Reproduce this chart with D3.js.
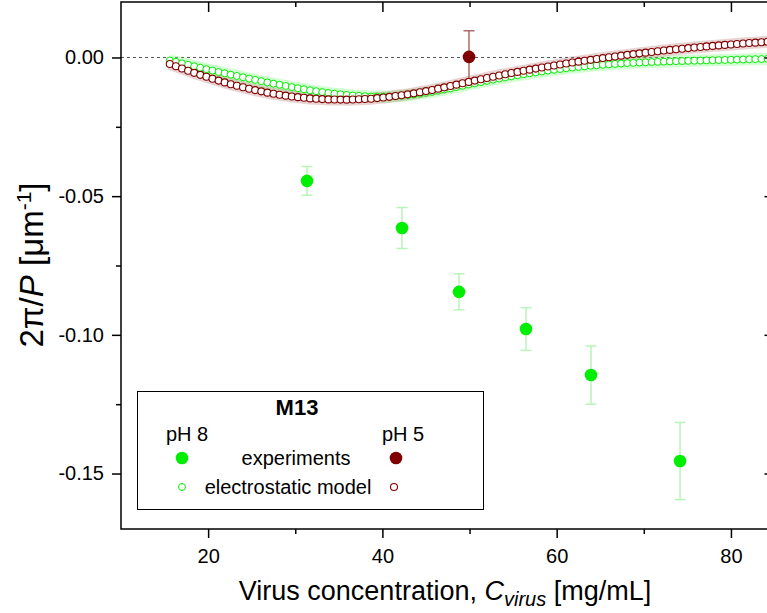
<!DOCTYPE html>
<html>
<head>
<meta charset="utf-8">
<script src="https://cdn.jsdelivr.net/npm/d3@7"></script>
<style>
  body { margin: 0; background: #fff; }
  text { font-family: "Liberation Sans", Arial, sans-serif; }
</style>
</head>
<body>
<div id="chart"></div>
<script>
// experiments, pH 8 (green)
let expPh8X = [31.35, 42.25, 48.79, 56.48, 63.94, 74.16];
let expPh8Y = [-0.0445, -0.0615, -0.0845, -0.0979, -0.1145, -0.1455];
let expPh8Err = [0.0052, 0.0074, 0.0065, 0.0077, 0.0105, 0.0139];

// experiments, pH 5 (dark red)
let expPh5X = [49.94];
let expPh5Y = [0.0002];
let expPh5Err = [0.0094];

// electrostatic model, shared concentrations
let modelX = [15.6, 16.3, 17.0, 17.7, 18.4, 19.1, 19.8, 20.5, 21.2, 21.9,
  22.6, 23.3, 24.0, 24.7, 25.4, 26.1, 26.8, 27.5, 28.2, 28.9,
  29.6, 30.3, 31.0, 31.7, 32.4, 33.1, 33.8, 34.5, 35.2, 35.9,
  36.6, 37.3, 38.0, 38.7, 39.4, 40.1, 40.8, 41.5, 42.2, 42.9,
  43.6, 44.3, 45.0, 45.7, 46.4, 47.1, 47.8, 48.5, 49.2, 49.9,
  50.6, 51.3, 52.0, 52.7, 53.4, 54.1, 54.8, 55.5, 56.2, 56.9,
  57.6, 58.3, 59.0, 59.7, 60.4, 61.1, 61.8, 62.5, 63.2, 63.9,
  64.6, 65.3, 66.0, 66.7, 67.4, 68.1, 68.8, 69.5, 70.2, 70.9,
  71.6, 72.3, 73.0, 73.7, 74.4, 75.1, 75.8, 76.5, 77.2, 77.9,
  78.6, 79.3, 80.0, 80.7, 81.4, 82.1, 82.8, 83.5, 84.2, 84.9];

let modelPh8 = [-0.00108, -0.00160, -0.00213, -0.00265, -0.00318, -0.00370, -0.00422, -0.00472, -0.00522, -0.00571,
  -0.00620, -0.00667, -0.00714, -0.00762, -0.00808, -0.00854, -0.00900, -0.00944, -0.00986, -0.01027,
  -0.01068, -0.01107, -0.01146, -0.01184, -0.01216, -0.01248, -0.01279, -0.01305, -0.01328, -0.01351,
  -0.01370, -0.01383, -0.01396, -0.01408, -0.01411, -0.01412, -0.01411, -0.01395, -0.01377, -0.01359,
  -0.01334, -0.01303, -0.01272, -0.01238, -0.01196, -0.01154, -0.01112, -0.01066, -0.01020, -0.00974,
  -0.00930, -0.00886, -0.00841, -0.00799, -0.00758, -0.00718, -0.00678, -0.00642, -0.00605, -0.00569,
  -0.00537, -0.00505, -0.00473, -0.00444, -0.00416, -0.00389, -0.00364, -0.00342, -0.00320, -0.00298,
  -0.00281, -0.00263, -0.00246, -0.00232, -0.00219, -0.00205, -0.00194, -0.00184, -0.00174, -0.00165,
  -0.00157, -0.00150, -0.00142, -0.00135, -0.00129, -0.00122, -0.00116, -0.00111, -0.00105, -0.00100,
  -0.00094, -0.00089, -0.00083, -0.00078, -0.00072, -0.00067, -0.00061, -0.00056, -0.00050, -0.00045];

let modelPh5 = [-0.00233, -0.00315, -0.00395, -0.00478, -0.00555, -0.00626, -0.00697, -0.00767, -0.00833, -0.00899,
  -0.00963, -0.01018, -0.01073, -0.01128, -0.01176, -0.01222, -0.01268, -0.01307, -0.01342, -0.01376,
  -0.01407, -0.01430, -0.01453, -0.01476, -0.01488, -0.01500, -0.01512, -0.01517, -0.01519, -0.01520,
  -0.01515, -0.01506, -0.01497, -0.01486, -0.01464, -0.01442, -0.01420, -0.01390, -0.01360, -0.01329,
  -0.01293, -0.01253, -0.01213, -0.01171, -0.01124, -0.01077, -0.01029, -0.00980, -0.00931, -0.00881,
  -0.00833, -0.00786, -0.00739, -0.00693, -0.00649, -0.00605, -0.00562, -0.00521, -0.00480, -0.00439,
  -0.00401, -0.00362, -0.00324, -0.00288, -0.00253, -0.00218, -0.00183, -0.00150, -0.00118, -0.00085,
  -0.00054, -0.00022, 0.00009, 0.00037, 0.00066, 0.00094, 0.00121, 0.00148, 0.00174, 0.00200,
  0.00224, 0.00249, 0.00273, 0.00295, 0.00317, 0.00338, 0.00359, 0.00379, 0.00399, 0.00418,
  0.00435, 0.00453, 0.00470, 0.00487, 0.00503, 0.00520, 0.00535, 0.00551, 0.00566, 0.00581];

// ticks
let xMajor = [20, 40, 60, 80];
let xMinor = [30, 50, 70];
let yMajor = [0, -0.05, -0.10, -0.15];
let yMinor = [-0.025, -0.075, -0.125];

let green = '#00ee00', darkRed = '#800000';

let margin = { top: 2, left: 121 };
let width = 653.5, height = 527;

let svg = d3.select('#chart').append('svg')
    .attr('width', 767)
    .attr('height', 613);

let g = svg.append('g')
    .attr('transform', 'translate(' + margin.left + ',' + margin.top + ')');

let x = d3.scaleLinear().domain([10, 85]).range([0, width]);
let y = d3.scaleLinear().domain([-0.17, 0.02]).range([height, 0]);

g.append('clipPath').attr('id', 'clip')
    .append('rect').attr('width', width).attr('height', height);

let plot = g.append('g').attr('clip-path', 'url(#clip)');

// zero line
plot.append('line')
    .attr('x1', 0).attr('x2', width)
    .attr('y1', y(0)).attr('y2', y(0))
    .attr('stroke', '#555').attr('stroke-width', 1)
    .attr('stroke-dasharray', '3,3');

let ph8 = modelX.map(function(d, i){ return {x: d, y: modelPh8[i]}; });
let ph5 = modelX.map(function(d, i){ return {x: d, y: modelPh5[i]}; });

let line = d3.line().x(function(d){ return x(d.x); }).y(function(d){ return y(d.y); });

// faint bands behind the model points
plot.append('path').datum(ph8)
    .attr('d', line).attr('fill', 'none')
    .attr('stroke', '#7cff7c').attr('stroke-opacity', 0.35).attr('stroke-width', 12);
plot.append('path').datum(ph5)
    .attr('d', line).attr('fill', 'none')
    .attr('stroke', '#b06060').attr('stroke-opacity', 0.28).attr('stroke-width', 12);

// pH 5 error bar sits under the model points, as in the original
function drawBars(xs, ys, errs, barColor, bottomCap){
    let eg = plot.append('g').attr('stroke', barColor).attr('stroke-width', 1.5);
    xs.forEach(function(d, i){
        let cx = x(d), top = y(ys[i] + errs[i]), bot = y(ys[i] - errs[i]);
        eg.append('line').attr('x1', cx).attr('x2', cx).attr('y1', top).attr('y2', bot);
        eg.append('line').attr('x1', cx - 5.5).attr('x2', cx + 5.5).attr('y1', top).attr('y2', top);
        if (bottomCap) {
            eg.append('line').attr('x1', cx - 5.5).attr('x2', cx + 5.5).attr('y1', bot).attr('y2', bot);
        }
    });
}
drawBars(expPh5X, expPh5Y, expPh5Err, '#b06a6a', false);

// model circles
plot.selectAll('.m8').data(ph8).enter().append('circle')
    .attr('class', 'm8')
    .attr('cx', function(d){ return x(d.x); })
    .attr('cy', function(d){ return y(d.y); })
    .attr('r', 3.5)
    .attr('fill', '#fff').attr('stroke', green).attr('stroke-width', 1);

plot.selectAll('.m5').data(ph5).enter().append('circle')
    .attr('class', 'm5')
    .attr('cx', function(d){ return x(d.x); })
    .attr('cy', function(d){ return y(d.y); })
    .attr('r', 3.5)
    .attr('fill', '#fff').attr('stroke', darkRed).attr('stroke-width', 1.1);

drawBars(expPh8X, expPh8Y, expPh8Err, '#b8f5b8', true);

// experiment dots
function drawDots(xs, ys, color){
    plot.selectAll(null).data(xs).enter().append('circle')
        .attr('cx', function(d){ return x(d); })
        .attr('cy', function(d, i){ return y(ys[i]); })
        .attr('r', 6.3)
        .attr('fill', color);
}
drawDots(expPh8X, expPh8Y, green);
drawDots(expPh5X, expPh5Y, darkRed);

// axes
let fmt = function(d){ return d.toFixed(2); };

function styleAxis(sel){
    sel.select('.domain').remove();
    sel.selectAll('line').attr('stroke', '#000').attr('stroke-width', 1.5);
    sel.selectAll('text').attr('font-size', 20).attr('fill', '#000');
}

g.append('g').attr('transform', 'translate(0,' + height + ')')
    .call(d3.axisBottom(x).tickValues(xMajor).tickSize(9).tickPadding(11).tickFormat(d3.format('d')))
    .call(styleAxis);
g.append('g').attr('transform', 'translate(0,' + height + ')')
    .call(d3.axisBottom(x).tickValues(xMinor).tickSize(5).tickFormat(''))
    .call(styleAxis);
g.append('g')
    .call(d3.axisTop(x).tickValues(xMajor).tickSize(-10).tickFormat(''))
    .call(styleAxis);
g.append('g')
    .call(d3.axisTop(x).tickValues(xMinor).tickSize(-5).tickFormat(''))
    .call(styleAxis);

g.append('g')
    .call(d3.axisLeft(y).tickValues(yMajor).tickSize(9).tickPadding(8).tickFormat(fmt))
    .call(styleAxis);
g.append('g')
    .call(d3.axisLeft(y).tickValues(yMinor).tickSize(5).tickFormat(''))
    .call(styleAxis);
g.append('g').attr('transform', 'translate(' + width + ',0)')
    .call(d3.axisRight(y).tickValues(yMajor).tickSize(-10).tickFormat(''))
    .call(styleAxis);
g.append('g').attr('transform', 'translate(' + width + ',0)')
    .call(d3.axisRight(y).tickValues(yMinor).tickSize(-5).tickFormat(''))
    .call(styleAxis);

// frame
g.append('rect')
    .attr('width', width).attr('height', height)
    .attr('fill', 'none').attr('stroke', '#000').attr('stroke-width', 1.5);

// axis titles
let xt = svg.append('text')
    .attr('x', 445).attr('y', 600)
    .attr('text-anchor', 'middle')
    .attr('font-size', 27);
xt.append('tspan').text('Virus concentration, ');
xt.append('tspan').attr('font-style', 'italic').text('C');
xt.append('tspan').attr('font-style', 'italic').attr('font-size', 20).attr('dy', 6).text('virus');
xt.append('tspan').attr('dy', -6).text(' [mg/mL]');

let yt = svg.append('text')
    .attr('transform', 'translate(43,265) rotate(-90)')
    .attr('text-anchor', 'middle')
    .attr('font-size', 33);
yt.append('tspan').text('2π/');
yt.append('tspan').attr('font-style', 'italic').text('P');
yt.append('tspan').text(' [μm');
yt.append('tspan').attr('font-size', 21).attr('dy', -12).text('-1');
yt.append('tspan').attr('dy', 12).text(']');

// legend
let lg = svg.append('g');
lg.append('rect')
    .attr('x', 137.5).attr('y', 391.5).attr('width', 346).attr('height', 118)
    .attr('fill', '#fff').attr('stroke', '#000').attr('stroke-width', 1);
lg.append('text').attr('x', 297).attr('y', 415).attr('text-anchor', 'middle')
    .attr('font-size', 22).attr('font-weight', 'bold').text('M13');
lg.append('text').attr('x', 187).attr('y', 441).attr('text-anchor', 'middle')
    .attr('font-size', 20).text('pH 8');
lg.append('text').attr('x', 403).attr('y', 441).attr('text-anchor', 'middle')
    .attr('font-size', 20).text('pH 5');
lg.append('circle').attr('cx', 182).attr('cy', 458).attr('r', 6.3).attr('fill', green);
lg.append('circle').attr('cx', 396).attr('cy', 458).attr('r', 6.3).attr('fill', darkRed);
lg.append('text').attr('x', 296).attr('y', 465).attr('text-anchor', 'middle')
    .attr('font-size', 20).text('experiments');
lg.append('circle').attr('cx', 182).attr('cy', 487).attr('r', 3.5)
    .attr('fill', '#fff').attr('stroke', green).attr('stroke-width', 1);
lg.append('circle').attr('cx', 394).attr('cy', 487).attr('r', 3.5)
    .attr('fill', '#fff').attr('stroke', darkRed).attr('stroke-width', 1.1);
lg.append('text').attr('x', 288).attr('y', 494).attr('text-anchor', 'middle')
    .attr('font-size', 20).text('electrostatic model');
</script>
</body>
</html>
